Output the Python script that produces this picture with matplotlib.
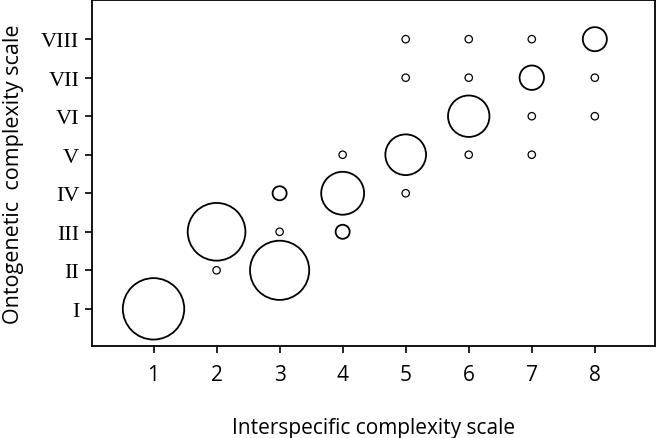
import matplotlib.pyplot as plt
import numpy as np

# interspecific scale (x), ontogenetic scale (y), relative bubble radius
inter = [1, 2, 3, 4, 5, 6, 7, 8,
         3, 4,
         2, 3, 4, 5, 5, 5, 6, 6, 6, 7, 7, 7, 8, 8]
onto = [1, 3, 2, 4, 5, 6, 7, 8,
        4, 3,
        2, 3, 5, 4, 7, 8, 5, 7, 8, 5, 6, 8, 6, 7]
weight = [8.3, 7.8, 8.0, 5.8, 5.5, 5.6, 3.3, 3.25,
          1.9, 1.9,
          1.0, 1.0, 1.0, 1.0, 1.0, 1.0, 1.0, 1.0, 1.0, 1.0, 1.0, 1.0, 1.0, 1.0]

roman = ['I', 'II', 'III', 'IV', 'V', 'VI', 'VII', 'VIII']
x_ticks = [1, 2, 3, 4, 5, 6, 7, 8]

fig = plt.figure(figsize=(6.6, 4.39), dpi=100)
ax = fig.add_axes([0.139, 0.21, 0.853, 0.788])

# radius of weight 1 is about 3.7 px; scatter size is area in pt^2
r_pt = np.array(weight) * 3.7 * 0.72
sizes = (2 * r_pt) ** 2
lw = np.where(np.array(weight) > 1.5, 1.3, 0.9)
ax.scatter(inter, onto, s=sizes, facecolors='none', edgecolors='black',
           linewidths=lw, zorder=3)

ax.set_xlim(0.02, 8.95)
ax.set_ylim(0.04, 9.02)

ax.set_xticks(x_ticks)
ax.set_xticklabels([str(v) for v in x_ticks], fontfamily='Open Sans', fontsize=15)
ax.set_yticks(range(1, 9))
ax.set_yticklabels(roman, fontfamily='Liberation Serif', fontsize=16)

ax.tick_params(axis='both', length=5, width=1.2, color='black')
ax.tick_params(axis='x', pad=8)
ax.tick_params(axis='y', pad=4)
for sp in ax.spines.values():
    sp.set_linewidth(1.3)

ax.set_xlabel('Interspecific complexity scale', fontfamily='Open Sans',
              fontsize=15, labelpad=23)
ax.set_ylabel('Ontogenetic  complexity scale', fontfamily='Open Sans',
              fontsize=15.5, labelpad=12)

fig.savefig('out.png', dpi=100)
